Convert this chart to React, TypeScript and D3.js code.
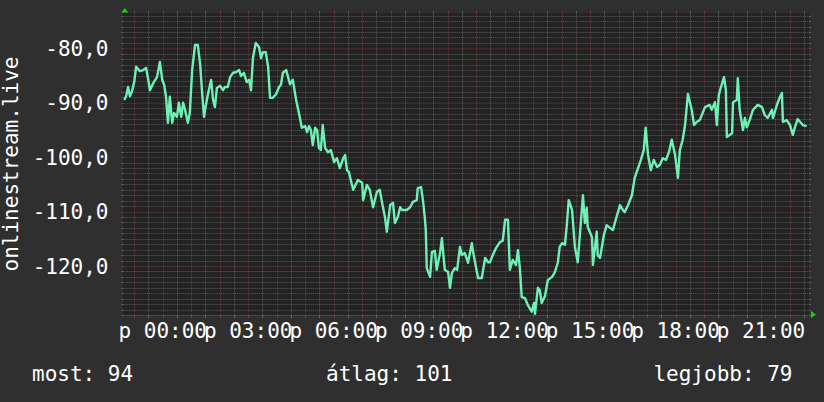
import React from "react";
import * as d3 from "d3";

// minutes relative to 00:00 (day "p")
const minutes: number[] = [
  -81, -77, -73, -69, -65, -60, -56, -48, -41, -35, -31, -27, -20, -12, -6, -1, 3, 7, 11, 15, 20, 24, 30, 34, 39, 43, 47, 53, 57, 62,
  68, 74, 79, 83, 87, 91, 97, 102, 106, 110, 114, 121, 127, 131, 137, 142, 148, 154, 161, 165, 171, 177, 182, 186, 190, 196, 203, 207, 211, 217,
  222, 226, 232, 239, 245, 249, 253, 260, 264, 268, 274, 281, 289, 293, 300, 304, 308, 312, 316, 321, 325, 329, 333, 337, 342, 348, 354, 361, 367, 373,
  380, 384, 388, 392, 396, 401, 411, 420, 422, 430, 436, 443, 451, 457, 462, 468, 472, 479, 485, 489, 495, 500, 504, 514, 521, 527, 535, 537, 544, 548,
  552, 554, 556, 563, 567, 573, 577, 584, 588, 594, 601, 605, 609, 615, 620, 626, 630, 636, 643, 651, 653, 664, 672, 679, 685, 689, 695, 702, 710, 716,
  721, 727, 731, 737, 744, 748, 752, 756, 763, 769, 777, 782, 784, 790, 794, 798, 805, 811, 820, 826, 832, 836, 841, 847, 851, 855, 862, 868, 874, 883,
  885, 889, 893, 895, 904, 906, 914, 916, 921, 929, 935, 942, 948, 954, 963, 969, 973, 980, 988, 994, 1001, 1007, 1013, 1017, 1022, 1028, 1034, 1041, 1047, 1053,
  1060, 1066, 1072, 1079, 1085, 1089, 1095, 1100, 1106, 1114, 1119, 1125, 1131, 1142, 1152, 1156, 1163, 1167, 1171, 1175, 1182, 1186, 1188, 1199, 1201, 1209, 1211, 1215, 1222, 1226,
  1230, 1236, 1243, 1253, 1262, 1268, 1274, 1283, 1285, 1295, 1300, 1304, 1306, 1314, 1321, 1327, 1331, 1337, 1342, 1348, 1356,
];

const signal: number[] = [
  -89.5, -88.8, -87.1, -88.8, -88.0, -86.2, -83.4, -84.2, -84.0, -83.6, -85.5, -87.7, -86.4, -85.3, -82.5, -85.8, -86.7, -88.9, -93.7, -88.9, -93.7, -91.9, -92.6, -90.0, -92.6, -90.0, -91.3, -93.7, -91.9, -84.0,
  -79.4, -79.4, -83.1, -88.2, -92.6, -90.4, -87.7, -85.8, -89.5, -90.8, -87.3, -86.9, -87.7, -87.1, -87.1, -85.3, -84.5, -84.4, -84.0, -85.1, -84.5, -86.2, -85.8, -87.7, -81.8, -79.0, -79.8, -81.8, -80.7, -80.7,
  -83.4, -89.1, -89.1, -88.4, -87.1, -86.7, -84.5, -84.0, -85.3, -86.6, -85.8, -89.5, -92.8, -94.6, -94.3, -95.4, -94.3, -95.0, -97.8, -94.6, -95.0, -98.3, -98.7, -94.1, -98.3, -99.1, -98.7, -100.9, -100.2, -102.0,
  -100.2, -99.6, -102.4, -102.7, -104.2, -106.0, -104.2, -104.7, -107.9, -105.1, -106.0, -109.2, -106.4, -106.0, -108.4, -111.0, -113.7, -108.8, -108.4, -112.1, -111.0, -109.2, -109.7, -109.7, -109.2, -108.2, -107.9, -105.7, -105.5, -107.9,
  -111.2, -113.4, -120.4, -122.0, -117.4, -117.2, -120.7, -117.6, -114.9, -120.7, -121.1, -124.0, -121.3, -120.4, -120.7, -116.5, -118.0, -117.6, -119.4, -115.8, -117.1, -122.2, -122.2, -118.5, -119.3, -119.3, -118.0, -116.7, -115.6, -115.4,
  -111.5, -111.5, -120.7, -118.9, -119.8, -117.1, -120.2, -125.7, -125.9, -127.2, -128.4, -126.8, -128.8, -124.0, -124.4, -126.8, -125.5, -122.6, -122.0, -121.1, -119.4, -116.5, -115.8, -116.1, -112.5, -107.9, -109.7, -116.5, -119.3, -109.2,
  -107.0, -112.1, -109.3, -112.8, -114.7, -119.8, -113.7, -118.0, -118.5, -114.3, -112.5, -113.0, -113.4, -111.5, -108.8, -109.7, -110.1, -108.8, -107.0, -103.8, -102.0, -100.5, -98.7, -94.6, -99.6, -102.4, -100.5, -101.8, -101.4, -100.2,
  -100.5, -99.1, -96.8, -99.6, -103.8, -98.7, -96.8, -94.1, -88.4, -91.3, -94.1, -93.5, -93.2, -90.8, -90.4, -91.3, -89.9, -94.1, -88.6, -87.3, -85.3, -87.7, -96.3, -95.6, -89.9, -89.5, -85.5, -91.3, -95.0, -92.8,
  -94.5, -93.2, -91.3, -90.4, -90.8, -92.3, -92.8, -91.3, -92.8, -90.0, -88.9, -88.2, -93.5, -93.2, -94.1, -95.9, -94.6, -93.0, -93.5, -94.1, -94.3,
];

const yTicks: number[] = [-80, -90, -100, -110, -120];
const xLabelMinutes: number[] = [0, 180, 360, 540, 720, 900, 1080, 1260];
const dayLabel = "p";
const axisTitle = "onlinestream.live";
const legendItems: string[] = ["most: 94", "átlag: 101", "legjobb: 79"];

const W = 824;
const H = 402;
const X0 = 123.3;
const X1 = 809;
const Y0 = 315;
const Y1 = 13.3;
const FONT = "'DejaVu Sans Mono', monospace";

export default function App() {
  const x = d3.scaleLinear().domain([-83, 1361]).range([X0, X1]);
  const y = d3.scaleLinear().domain([-129, -73.57]).range([Y0, Y1]);

  const pts = minutes.map((m, i) => [m, signal[i]] as [number, number]);
  const line = d3
    .line<[number, number]>()
    .x((d) => x(d[0]))
    .y((d) => y(d[1]));

  const vGrid = d3.range(-60, 1361, 30);
  const hGrid = d3.range(-129, -73, 1);

  const fmt = (m: number) => {
    const h = Math.floor(m / 60);
    const mm = m % 60;
    return `${dayLabel} ${String(h).padStart(2, "0")}:${String(mm).padStart(2, "0")}`;
  };
  const fmtY = (v: number) => v.toFixed(1).replace(".", ",");

  const minor = "rgba(255,255,255,0.24)";
  const major = "rgba(255,70,70,0.42)";

  return (
    <svg width={W} height={H} style={{ display: "block", position: "absolute", left: 0, top: 0 }}>
      <rect x={0} y={0} width={W} height={H} fill="#2f2f2f" />
      <rect x={X0} y={Y1} width={X1 - X0} height={Y0 - Y1} fill="#232323" />
      {hGrid.map((v) => {
        const isMajor = v % 10 === 0;
        const yy = Math.round(y(v)) + 0.5;
        return (
          <g key={"h" + v}>
            <line x1={X0} x2={X1} y1={yy} y2={yy} stroke={isMajor ? major : minor} strokeWidth={1} strokeDasharray="1,1" />
            <line x1={X0 - 2} x2={X0} y1={yy} y2={yy} stroke={isMajor ? major : minor} strokeWidth={1} />
            <line x1={X1} x2={X1 + 2} y1={yy} y2={yy} stroke={isMajor ? major : minor} strokeWidth={1} />
          </g>
        );
      })}
      {vGrid.map((m) => {
        const isMajor = m % 60 === 0;
        const xx = Math.round(x(m)) + 0.5;
        return (
          <g key={"v" + m}>
            <line x1={xx} x2={xx} y1={Y1} y2={Y0} stroke={isMajor ? major : minor} strokeWidth={1} strokeDasharray="1,1" />
            <line x1={xx} x2={xx} y1={Y0} y2={Y0 + 3} stroke={isMajor ? major : minor} strokeWidth={1} />
            <line x1={xx} x2={xx} y1={Y1 - 2} y2={Y1} stroke={isMajor ? major : minor} strokeWidth={1} />
          </g>
        );
      })}
      <path d={line(pts) || ""} fill="none" stroke="#6ff0b4" strokeWidth={2.4} strokeLinejoin="round" />
      <polygon points={`${X0 + 1.5},8 ${X0 - 2},12.5 ${X0 + 5},12.5`} fill="#14d414" />
      <polygon points={`816,314.5 811,311 811,318`} fill="#14d414" />
      {yTicks.map((v) => (
        <text key={"yl" + v} x={108.5} y={y(v) + 7.5} fill="#ffffff" fontFamily={FONT} fontSize={21} textAnchor="end">
          {fmtY(v)}
        </text>
      ))}
      {xLabelMinutes.map((m) => (
        <text key={"xl" + m} x={x(m)} y={338} fill="#ffffff" fontFamily={FONT} fontSize={21} textAnchor="middle">
          {fmt(m)}
        </text>
      ))}
      <text transform="translate(18,164) rotate(-90)" fill="#ffffff" fontFamily={FONT} fontSize={21} textAnchor="middle">
        {axisTitle}
      </text>
      <text x={32} y={380.7} fill="#ffffff" fontFamily={FONT} fontSize={21}>{legendItems[0]}</text>
      <text x={326} y={380.7} fill="#ffffff" fontFamily={FONT} fontSize={21}>{legendItems[1]}</text>
      <text x={792.5} y={380.7} fill="#ffffff" fontFamily={FONT} fontSize={21} textAnchor="end">{legendItems[2]}</text>
    </svg>
  );
}
